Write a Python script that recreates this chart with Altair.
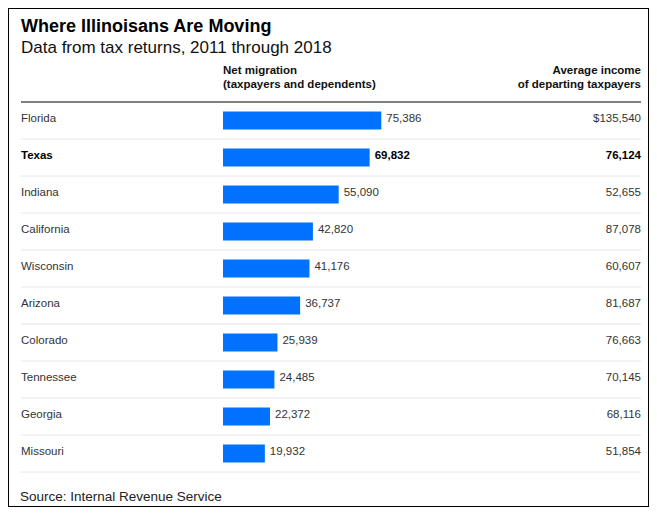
import altair as alt
import pandas as pd

states = ["Florida", "Texas", "Indiana", "California", "Wisconsin",
          "Arizona", "Colorado", "Tennessee", "Georgia", "Missouri"]
net_migration = [75386, 69832, 55090, 42820, 41176, 36737, 25939, 24485, 22372, 19932]
avg_income = [135540, 76124, 52655, 87078, 60607, 81687, 76663, 70145, 68116, 51854]
highlight = "Texas"

income_labels = [("$" if i == 0 else "") + f"{v:,}" for i, v in enumerate(avg_income)]
df = pd.DataFrame({"state": states, "net": net_migration, "income": income_labels})

FONT = "Liberation Sans, Arial, Helvetica, sans-serif"
LEFT, RIGHT = 13, 633

y_enc = alt.Y("state:N", sort=states, axis=None,
              scale=alt.Scale(range=[94, 464], paddingInner=0, paddingOuter=0))
x_enc = alt.X("net:Q", axis=None, scale=alt.Scale(domain=[0, 100000], range=[215, 425]))

base = alt.Chart(df)

seps = base.mark_rule(color="#e6e6e6", strokeWidth=1).encode(
    y=alt.Y("state:N", sort=states, axis=None, bandPosition=1),
    x=alt.value(LEFT), x2=alt.value(RIGHT))

bars = base.mark_bar(height=18, color="#0072ff").encode(
    y=y_enc, x=x_enc, x2=alt.datum(0))

def row_texts(filt, weight, color):
    b = base.transform_filter(filt)
    names = b.mark_text(align="left", baseline="alphabetic", dy=1.5, font=FONT,
                        fontSize=11.5, fontWeight=weight, color=color).encode(
        y=alt.Y("state:N", sort=states, axis=None), x=alt.value(LEFT), text="state:N")
    vals = b.mark_text(align="left", baseline="alphabetic", dx=5, dy=1.5, font=FONT,
                       fontSize=11.5, fontWeight=weight, color=color).encode(
        y=alt.Y("state:N", sort=states, axis=None),
        x=alt.X("net:Q", axis=None), text=alt.Text("net:Q", format=","))
    inc = b.mark_text(align="right", baseline="alphabetic", dy=1.5, font=FONT,
                      fontSize=11.5, fontWeight=weight, color=color).encode(
        y=alt.Y("state:N", sort=states, axis=None), x=alt.value(RIGHT), text="income:N")
    return [names, vals, inc]

normal = row_texts(alt.datum.state != highlight, "normal", "#333333")
bold = row_texts(alt.datum.state == highlight, "bold", "#000000")

def deco(text, x, y, size, weight="normal", align="left", color="#111111"):
    return alt.Chart(pd.DataFrame({"t": [text]})).mark_text(
        align=align, baseline="alphabetic", font=FONT, fontSize=size,
        fontWeight=weight, color=color, lineBreak="\n", lineHeight=13.5).encode(
        text="t:N", x=alt.value(x), y=alt.value(y))

title = deco("Where Illinoisans Are Moving", LEFT, 23.5, 18, "bold", color="#000000")
subtitle = deco("Data from tax returns, 2011 through 2018", LEFT, 45, 17, color="#111111")
head1 = deco("Net migration\n(taxpayers and dependents)", 215, 66, 11.5, "bold", color="#111111")
head2 = deco("Average income\nof departing taxpayers", RIGHT, 66, 11.5, "bold", "right", "#111111")
source = deco("Source: Internal Revenue Service", 12, 493, 13.5, color="#222222")

top_rule = alt.Chart(pd.DataFrame({"a": [0]})).mark_rule(color="#000000", strokeWidth=1.2).encode(
    y=alt.value(94), x=alt.value(LEFT), x2=alt.value(RIGHT))

chart = alt.layer(
    seps, bars, *normal, *bold, title, subtitle, head1, head2, source, top_rule
).properties(
    width=641, height=499, padding=0, autosize=alt.AutoSizeParams(type="none"),
    background="white"
).configure_view(stroke="#000000", strokeWidth=2)

chart.save("out.html", embed_options={"renderer": "svg", "actions": False})
